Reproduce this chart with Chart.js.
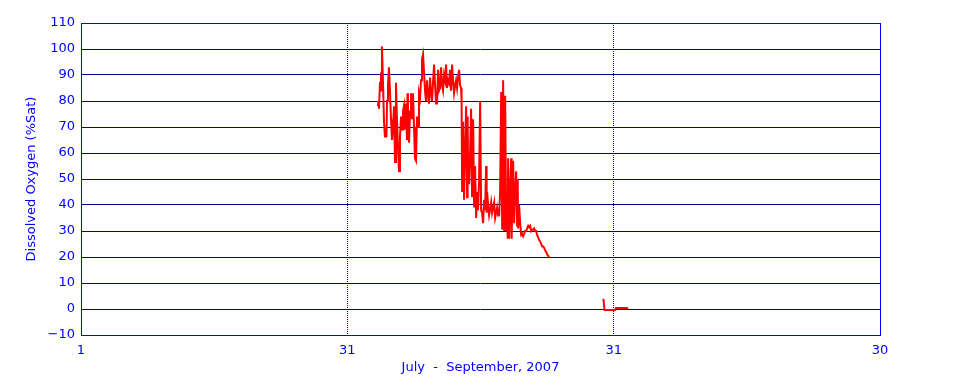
<!DOCTYPE html>
<html>
<head>
<meta charset="utf-8">
<script src="https://cdn.jsdelivr.net/npm/chart.js@4.4.0/dist/chart.umd.min.js"></script>
<style>
  html, body { margin: 0; padding: 0; background: #fff; }
  #wrap { width: 960px; height: 384px; }
</style>
</head>
<body>
<div id="wrap"><canvas id="myChart" width="960" height="384"></canvas></div>
<script>
// x axis: days since July 1, the three month marks are drawn evenly spaced
const xTickDays = [0, 30, 60, 90];
const xTickLabels = ['1', '31', '31', '30'];

// August record (first run of the sonde)
const daysA = [
  33.45, 33.51, 33.56, 33.68, 33.79, 33.84, 33.90, 34.01, 34.13, 34.24,
  34.35, 34.41, 34.47, 34.58, 34.69, 34.80, 34.92, 35.03, 35.14, 35.26,
  35.37, 35.48, 35.59, 35.71, 35.82, 35.93, 36.05, 36.16, 36.27, 36.38,
  36.44, 36.50, 36.61, 36.72, 36.78, 36.83, 36.95, 37.06, 37.17, 37.28,
  37.40, 37.51, 37.62, 37.74, 37.85, 37.96, 38.07, 38.19, 38.30, 38.41,
  38.53, 38.64, 38.75, 38.86, 38.98, 39.09, 39.20, 39.32, 39.43, 39.54,
  39.65, 39.77, 39.88, 39.99, 40.11, 40.22, 40.33, 40.44, 40.56, 40.67,
  40.78, 40.90, 41.01, 41.12, 41.23, 41.35, 41.46, 41.57, 41.68, 41.80,
  41.91, 42.02, 42.14, 42.25, 42.36, 42.47, 42.59, 42.70, 42.81, 42.87,
  42.93, 43.04, 43.15, 43.26, 43.38, 43.49, 43.55, 43.60, 43.72, 43.83,
  43.94, 44.05, 44.17, 44.28, 44.39, 44.51, 44.62, 44.73, 44.84, 44.96,
  45.07, 45.18, 45.29, 45.41, 45.52, 45.63, 45.69, 45.75, 45.86, 45.97,
  46.08, 46.20, 46.31, 46.42, 46.54, 46.65, 46.76, 46.87, 46.99, 47.10,
  47.21, 47.33, 47.44, 47.50, 47.55, 47.66, 47.78, 47.89, 48.00, 48.06,
  48.11, 48.23, 48.34, 48.45, 48.51, 48.57, 48.68, 48.79, 48.90, 49.02,
  49.13, 49.19, 49.24, 49.35, 49.47, 49.58, 49.69, 49.80, 49.92, 50.03,
  50.14, 50.26, 50.37, 50.48, 50.59, 50.71, 50.82, 50.93, 51.04, 51.16,
  51.27, 51.38, 51.50, 51.61, 51.72, 51.83, 51.95, 52.06, 52.17, 52.29,
  52.40, 52.51, 52.62, 52.74
];
const doSatA = [
  78, 80, 77, 87, 91, 84, 101, 88, 72, 66,
  70, 66, 80, 86, 93, 84, 73, 65, 70, 78,
  56.5, 87, 73, 62, 53, 66, 74, 69, 76, 78,
  69, 73, 79, 65, 83, 72, 64, 76, 83, 73,
  83, 70, 58, 57, 74, 70, 83, 81, 88, 96,
  98, 91, 84, 80, 88, 82, 79, 89, 83, 80,
  87, 94, 86, 79, 79, 92, 84, 85, 93, 86,
  84, 90, 88, 94, 85, 88, 87, 92, 84, 94,
  88, 83, 86, 88, 85, 89, 92, 86, 85, 80,
  45, 72, 42, 60, 78, 43, 74, 55, 48, 60,
  77, 43, 73, 39, 55, 35, 45, 38, 50, 80,
  38, 37, 33, 42, 38, 55, 37, 45, 40, 36,
  38, 41, 37, 39, 41, 35, 37, 39, 36, 36,
  45, 83.5, 31, 66, 88, 30, 82, 30, 41, 27,
  58, 27, 45, 58, 27, 40, 57, 33, 45, 53,
  32, 50, 31, 40, 33, 28.5, 29, 28, 29, 30,
  30, 31, 32, 31.5, 32, 30, 30.5, 30.5, 31, 30,
  30, 28.5, 27.5, 26.5, 26, 25, 24, 24, 23.5, 22.5,
  22, 21, 20.5, 19.8
];

// end of August redeploy (second run)
const daysB = [58.80, 58.86, 58.97, 60.15, 60.26, 61.50, 61.61];
const doSatB = [3.8, 3.5, -0.4, -0.4, 0.4, 0.4, 0.0];

const blue = '#0000ff';
const gridBlue = '#000099';
const axisFont = { family: 'DejaVu Sans', size: 13 };

const points = daysA.map((d, i) => ({ x: d, y: doSatA[i] }))
  .concat([{ x: 55.5, y: null }])
  .concat(daysB.map((d, i) => ({ x: d, y: doSatB[i] })));

const framePlugin = {
  id: 'frame',
  afterDraw(chart) {
    const { ctx, chartArea: a } = chart;
    ctx.save();
    ctx.strokeStyle = blue;
    ctx.lineWidth = 1;
    ctx.strokeRect(a.left + 0.5, a.top + 0.5, a.right - a.left, a.bottom - a.top);
    ctx.restore();
  }
};

const ctx = document.getElementById('myChart').getContext('2d');
new Chart(ctx, {
  type: 'line',
  data: {
    datasets: [{
      data: points,
      borderColor: '#ff0000',
      borderWidth: 2,
      pointRadius: 0,
      fill: false,
      tension: 0,
      spanGaps: false
    }]
  },
  options: {
    responsive: false,
    animation: false,
    devicePixelRatio: 1,
    layout: { padding: { top: 23, right: 80, bottom: 0, left: 0 } },
    plugins: { legend: { display: false }, tooltip: { enabled: false } },
    scales: {
      x: {
        type: 'linear',
        min: 0,
        max: 90,
        afterBuildTicks: s => { s.ticks = xTickDays.map(v => ({ value: v })); },
        afterFit: s => { s.height = 49; },
        ticks: {
          color: blue,
          font: axisFont,
          padding: 8,
          maxRotation: 0,
          autoSkip: false,
          callback: (v, i) => xTickLabels[i]
        },
        grid: {
          color: c => (c.tick && (c.tick.value === 30 || c.tick.value === 60)) ? gridBlue : 'rgba(0,0,0,0)',
          drawTicks: false,
          lineWidth: 1
        },
        border: { display: false, dash: [1, 1] },
        title: {
          display: true,
          text: 'July  -  September, 2007',
          color: blue,
          font: axisFont,
          padding: { top: 0, bottom: 9 }
        }
      },
      y: {
        min: -10,
        max: 110,
        afterFit: s => { s.width = 81; },
        ticks: {
          stepSize: 10,
          color: blue,
          font: axisFont,
          padding: 6,
          callback: v => v < 0 ? '\u2212' + Math.abs(v) : String(v)
        },
        grid: { color: gridBlue, drawTicks: false, lineWidth: 1 },
        border: { display: false },
        title: {
          display: true,
          text: 'Dissolved Oxygen (%Sat)',
          color: blue,
          font: axisFont,
          padding: { top: 24, bottom: 0 }
        }
      }
    }
  },
  plugins: [framePlugin]
});
</script>
</body>
</html>
